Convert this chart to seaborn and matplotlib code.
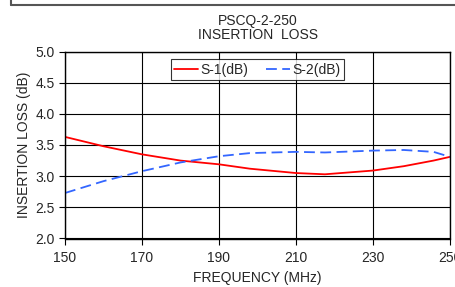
import matplotlib
matplotlib.use("Agg")
import matplotlib.pyplot as plt
import seaborn as sns
import pandas as pd
from matplotlib.lines import Line2D

# values
freq = [150, 160, 170, 180, 190, 198, 210, 217.5, 230, 238, 245.7, 250]
s1_db = [3.63, 3.48, 3.35, 3.25, 3.19, 3.12, 3.05, 3.03, 3.09, 3.16, 3.25, 3.31]
s2_db = [2.73, 2.92, 3.08, 3.22, 3.32, 3.37, 3.39, 3.38, 3.41, 3.42, 3.39, 3.31]

df = pd.DataFrame({"freq": freq, "S-1(dB)": s1_db, "S-2(dB)": s2_db})
long = df.melt(id_vars="freq", var_name="series", value_name="loss")

sns.set_style("white")
plt.rcParams["font.family"] = ["Liberation Sans", "DejaVu Sans"]

W, H = 456, 287
fig = plt.figure(figsize=(W / 100, H / 100), dpi=100)
ax = fig.add_axes([65 / W, 1 - 238.5 / H, 385 / W, 187 / H])

sns.lineplot(data=long, x="freq", y="loss", hue="series", style="series",
             palette={"S-1(dB)": "#ff0000", "S-2(dB)": "#3366ff"},
             dashes={"S-1(dB)": "", "S-2(dB)": (6, 3)},
             linewidth=1.3, ax=ax)

ax.set_xlim(150, 250)
ax.set_ylim(2.0, 5.0)
ax.set_xticks(range(150, 251, 20))
ax.set_yticks([2.0, 2.5, 3.0, 3.5, 4.0, 4.5, 5.0])
ax.set_yticklabels([f"{v:.1f}" for v in ax.get_yticks()])
ax.grid(True, color="black", linewidth=0.8)
for s in ax.spines.values():
    s.set_color("black")
    s.set_linewidth(1.0)
ax.tick_params(axis="both", labelsize=10, length=4, direction="out",
               color="black", left=True, bottom=True)
ax.tick_params(axis="x", pad=5)
ax.set_xlabel("FREQUENCY (MHz)", fontsize=10, labelpad=4)
ax.set_ylabel("INSERTION LOSS (dB)", fontsize=10, labelpad=3)
ax.set_title("PSCQ-2-250\nINSERTION  LOSS", fontsize=10, pad=9, linespacing=1.0)

leg = ax.legend(loc="upper center", bbox_to_anchor=(0.5, 0.995), ncol=2,
                frameon=True, fancybox=False, edgecolor="black",
                fontsize=10, handlelength=1.7, handletextpad=0.2,
                columnspacing=1.3, borderpad=0.25, title=None)
leg.get_frame().set_linewidth(0.8)

# partial frame at the top of the image
fig.add_artist(Line2D([11 / W, 1], [1 - 5 / H, 1 - 5 / H], color="#555555", linewidth=1.5))
fig.add_artist(Line2D([11 / W, 11 / W], [1 - 5 / H, 1], color="#555555", linewidth=1.5))

fig.savefig("out.png", dpi=100)
